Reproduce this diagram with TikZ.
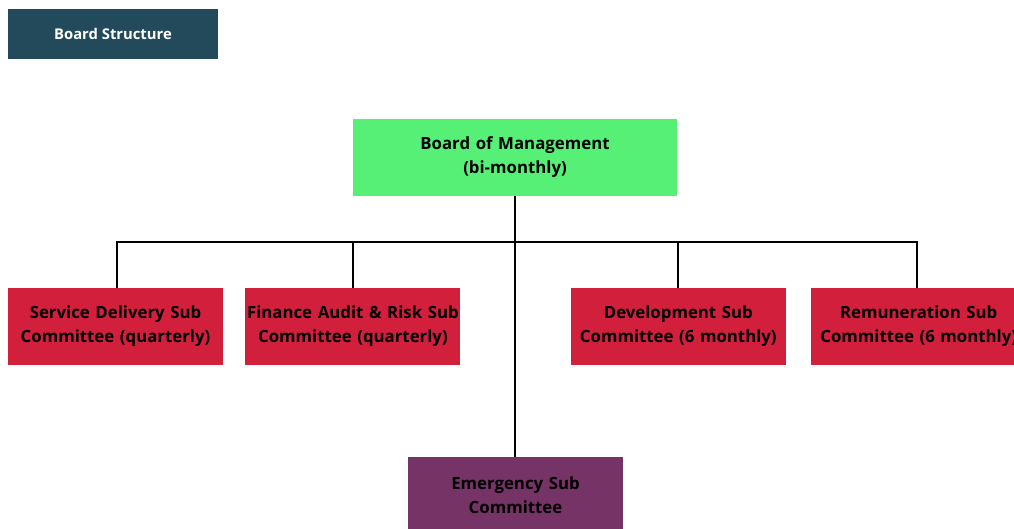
\documentclass[tikz,border=0pt]{standalone}
\usepackage{fontspec}
\setmainfont{Open Sans}
\usepackage{tikz}
\usetikzlibrary{positioning}
\definecolor{TitleTeal}{RGB}{35,74,90}
\definecolor{BoardGreen}{RGB}{85,240,117}
\definecolor{CommRed}{RGB}{210,31,60}
\definecolor{EmergPurple}{RGB}{118,52,102}

\begin{document}
\begin{tikzpicture}[x=1pt,y=1pt,
  box style/.style={
    fill=#1,
    draw=none,
    rectangle,
    inner sep=1pt,
    text width=213pt,
    minimum height=77pt,
    align=center,
    text=black,
    font=\fontsize{16.8}{24}\bfseries\selectfont,
  },
  title style/.style={
    fill=TitleTeal,
    rectangle,
    minimum width=210pt,
    minimum height=50pt,
    text=white,
    font=\fontsize{14.8}{17}\bfseries\selectfont,
  },
  link/.style={
    black,
    line width=2pt,
  }
]
\useasboundingbox (0,0) rectangle (1014,-529);
\clip (0,0) rectangle (1014,-529);

\node[title style] (title) at (113,-34) {Board Structure};

\node[box style=BoardGreen, text width=322pt] (board) at (515,-157.5) {Board of Management\\(bi-monthly)};

\node[box style=CommRed] (service) at (115.5,-326.5) {Service Delivery Sub\\Committee (quarterly)};
\node[box style=CommRed, right=22pt of service] (finance) {Finance Audit \& Risk Sub\\Committee (quarterly)};
\node[box style=CommRed, right=110pt of finance] (devel) {Development Sub\\Committee (6 monthly)};
\node[box style=CommRed, right=25pt of devel] (remun) {Remuneration Sub\\Committee (6 monthly)};

\node[box style=EmergPurple] (emerg) at (515.5,-495.5) {Emergency Sub\\Committee};

% connectors
\coordinate (bus) at (515,-242);
\draw[link] (board.south) -- (board.south |- emerg.north);
\draw[link] (bus) -| ([xshift=1.5pt]service.north);
\draw[link] (bus) -| (finance.north);
\draw[link] (bus) -| (devel.north);
\draw[link] (bus) -| ([xshift=-1.5pt]remun.north);

\end{tikzpicture}
\end{document}
